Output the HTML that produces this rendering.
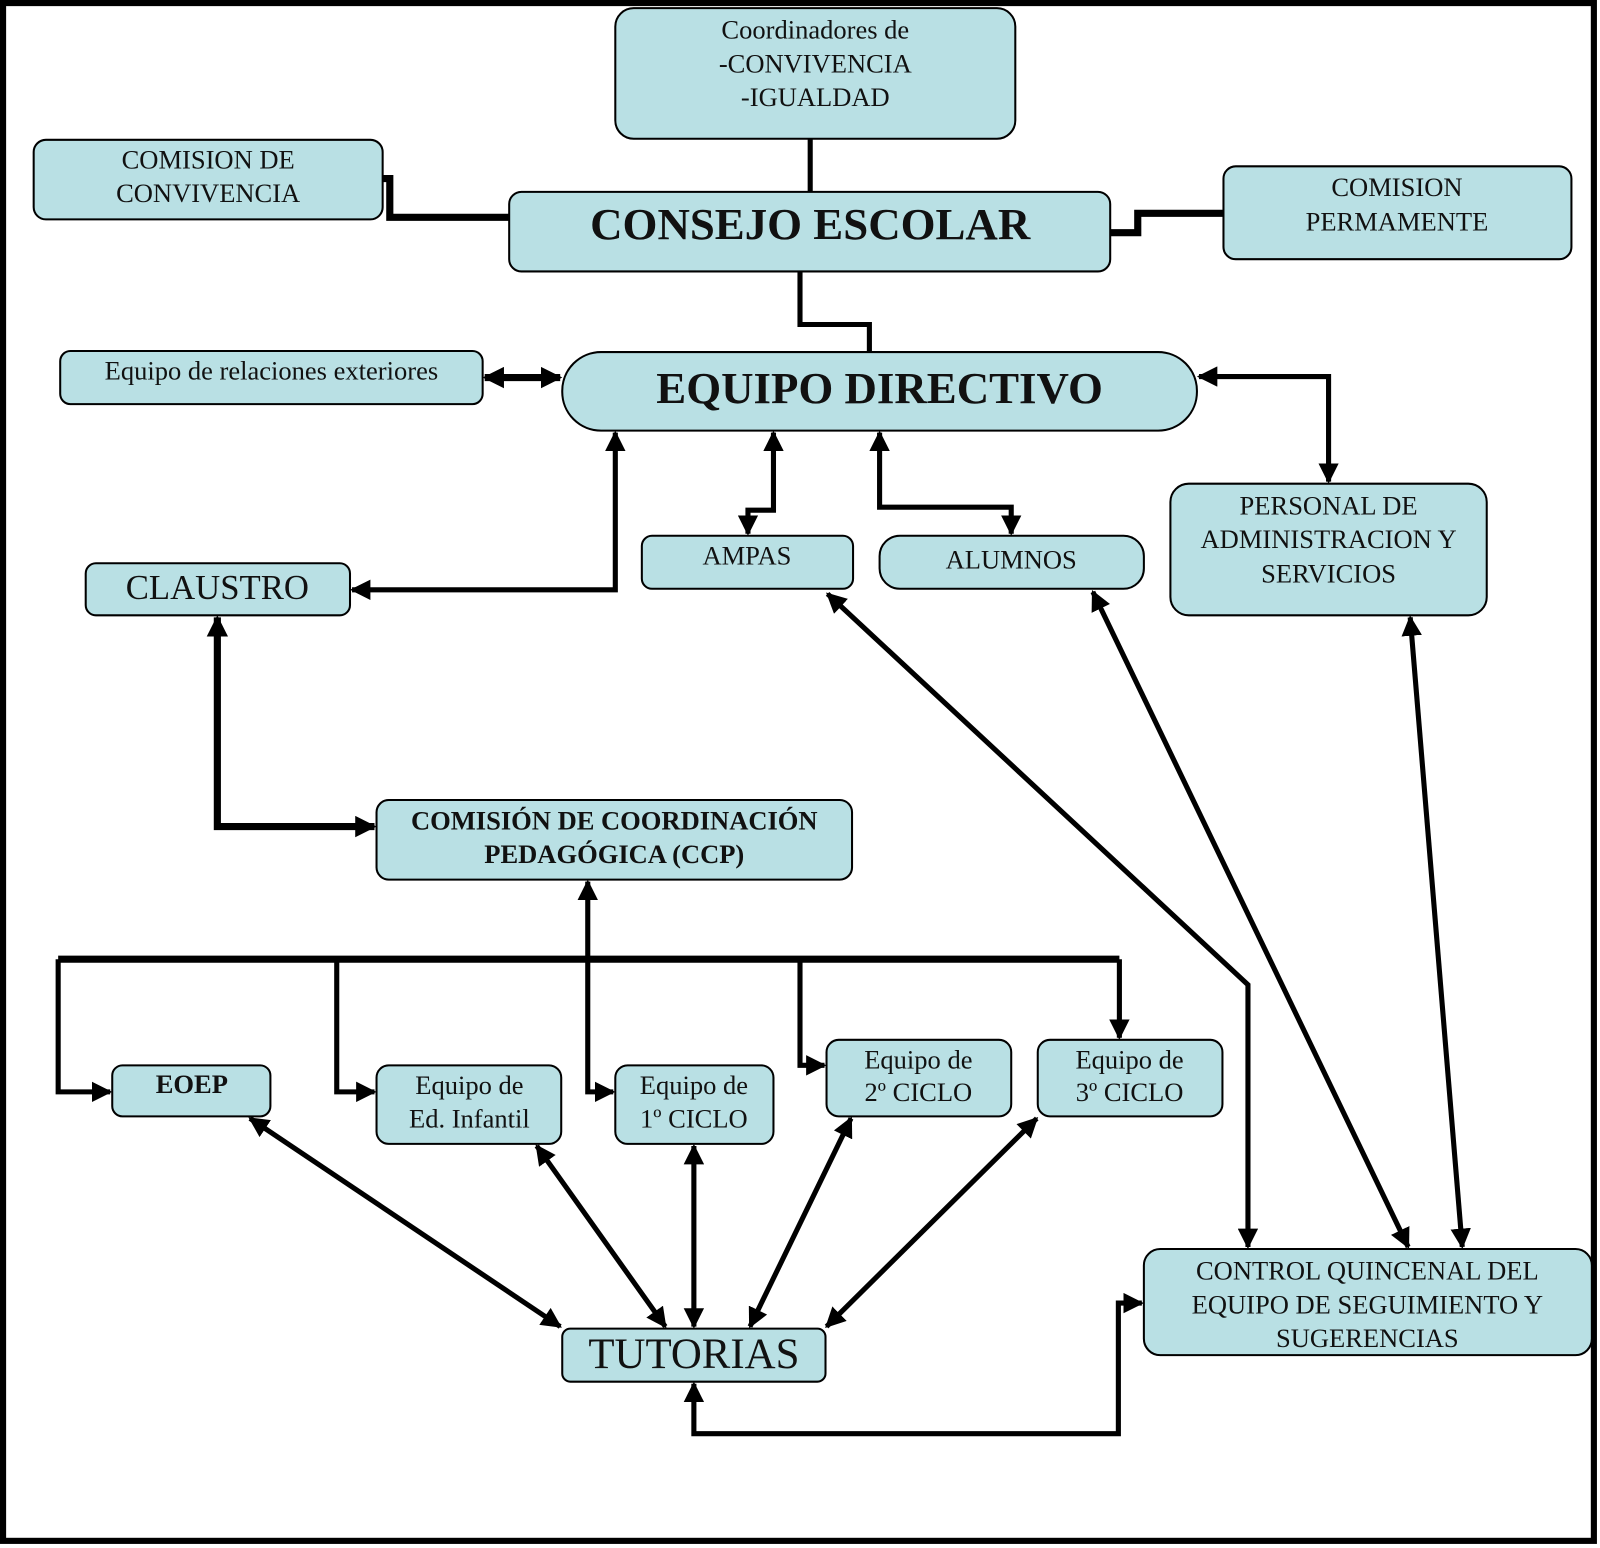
<!DOCTYPE html>
<html><head><meta charset="utf-8"><style>
html,body{margin:0;padding:0;background:#fff}
svg{display:block}
text{font-family:"Liberation Serif",serif;fill:#111;text-anchor:middle;dominant-baseline:middle}
.b{fill:#b9e0e4;stroke:#000;stroke-width:2}
.l{fill:none;stroke:#000;stroke-width:5}
.t{fill:none;stroke:#000;stroke-width:7}
</style></head><body>
<svg width="1600" height="1548" viewBox="0 0 1568 1517" preserveAspectRatio="none" xmlns="http://www.w3.org/2000/svg">
<defs>
<marker id="a" viewBox="0 0 10 10" refX="9" refY="5" markerWidth="4" markerHeight="4" orient="auto-start-reverse" markerUnits="strokeWidth"><path d="M0,0L10,5L0,10z" fill="#000"/></marker>
<marker id="s" viewBox="0 0 10 10" refX="9" refY="5" markerWidth="3" markerHeight="3" orient="auto-start-reverse" markerUnits="strokeWidth"><path d="M0,0L10,5L0,10z" fill="#000"/></marker>
</defs>
<rect x="3" y="3" width="1559" height="1507" fill="none" stroke="#000" stroke-width="6"/>
<!-- connectors -->
<path class="l" d="M794,136V188"/>
<path class="t" d="M375,175H382V213H499"/>
<path class="t" d="M1088,228H1115V209H1199"/>
<path class="l" d="M784,266V318H852V345"/>
<path class="t" d="M475,370H549" marker-start="url(#s)" marker-end="url(#s)"/>
<path class="l" d="M1175,369H1302V472" marker-start="url(#a)" marker-end="url(#a)"/>
<path class="l" d="M603,424V578H345" marker-start="url(#a)" marker-end="url(#a)"/>
<path class="l" d="M758,424V500H733V523" marker-start="url(#a)" marker-end="url(#a)"/>
<path class="l" d="M862,424V497H991V523" marker-start="url(#a)" marker-end="url(#a)"/>
<path class="t" d="M213,605V810H367" marker-start="url(#s)" marker-end="url(#s)"/>
<path class="l" d="M576,864V1070H601" marker-start="url(#a)" marker-end="url(#a)"/>
<path class="t" d="M57,940H1097"/>
<path class="l" d="M57,940V1070H108" marker-end="url(#a)"/>
<path class="l" d="M330,940V1070H367" marker-end="url(#a)"/>
<path class="l" d="M784,940V1044H808" marker-end="url(#a)"/>
<path class="l" d="M1097,940V1017" marker-end="url(#a)"/>
<path class="l" d="M245,1096L549,1300" marker-start="url(#a)" marker-end="url(#a)"/>
<path class="l" d="M526,1123L652,1300" marker-start="url(#a)" marker-end="url(#a)"/>
<path class="l" d="M680,1123V1300" marker-start="url(#a)" marker-end="url(#a)"/>
<path class="l" d="M834,1096L735,1300" marker-start="url(#a)" marker-end="url(#a)"/>
<path class="l" d="M1016,1096L810,1300" marker-start="url(#a)" marker-end="url(#a)"/>
<path class="l" d="M811,582L1223,965V1222" marker-start="url(#a)" marker-end="url(#a)"/>
<path class="l" d="M1071,580L1380,1222" marker-start="url(#a)" marker-end="url(#a)"/>
<path class="l" d="M1382,605L1433,1222" marker-start="url(#a)" marker-end="url(#a)"/>
<path class="l" d="M680,1356V1405H1096V1277H1119" marker-start="url(#a)" marker-end="url(#a)"/>
<!-- boxes -->
<rect class="b" x="603" y="8" width="392" height="128" rx="18"/>
<text x="799" y="32" font-size="26">Coordinadores de</text>
<text x="799" y="65" font-size="26">-CONVIVENCIA</text>
<text x="799" y="98" font-size="26">-IGUALDAD</text>
<rect class="b" x="33" y="137" width="342" height="78" rx="12"/>
<text x="204" y="159" font-size="26">COMISION DE</text>
<text x="204" y="192" font-size="26">CONVIVENCIA</text>
<rect class="b" x="499" y="188" width="589" height="78" rx="12"/>
<text x="794" y="224" font-size="44" font-weight="bold">CONSEJO ESCOLAR</text>
<rect class="b" x="1199" y="163" width="341" height="91" rx="12"/>
<text x="1369" y="186" font-size="26">COMISION</text>
<text x="1369" y="220" font-size="26">PERMAMENTE</text>
<rect class="b" x="59" y="344" width="414" height="52" rx="10"/>
<text x="266" y="366" font-size="26">Equipo de relaciones exteriores</text>
<rect class="b" x="551" y="345" width="622" height="77" rx="38"/>
<text x="862" y="385" font-size="44" font-weight="bold">EQUIPO DIRECTIVO</text>
<rect class="b" x="629" y="525" width="207" height="52" rx="10"/>
<text x="732" y="547" font-size="26">AMPAS</text>
<rect class="b" x="862" y="525" width="259" height="52" rx="20"/>
<text x="991" y="551" font-size="26">ALUMNOS</text>
<rect class="b" x="1147" y="474" width="310" height="129" rx="18"/>
<text x="1302" y="498" font-size="26">PERSONAL DE</text>
<text x="1302" y="531" font-size="26">ADMINISTRACION Y</text>
<text x="1302" y="565" font-size="26">SERVICIOS</text>
<rect class="b" x="84" y="552" width="259" height="51" rx="10"/>
<text x="213" y="579" font-size="34">CLAUSTRO</text>
<rect class="b" x="369" y="784" width="466" height="78" rx="12"/>
<text x="602" y="807" font-size="26" font-weight="bold">COMISIÓN DE COORDINACIÓN</text>
<text x="602" y="840" font-size="26" font-weight="bold">PEDAGÓGICA (CCP)</text>
<rect class="b" x="110" y="1044" width="155" height="50" rx="10"/>
<text x="188" y="1065" font-size="26" font-weight="bold">EOEP</text>
<rect class="b" x="369" y="1044" width="181" height="77" rx="12"/>
<text x="460" y="1066" font-size="26">Equipo de</text>
<text x="460" y="1099" font-size="26">Ed. Infantil</text>
<rect class="b" x="603" y="1044" width="155" height="77" rx="12"/>
<text x="680" y="1066" font-size="26">Equipo de</text>
<text x="680" y="1099" font-size="26">1º CICLO</text>
<rect class="b" x="810" y="1019" width="181" height="75" rx="12"/>
<text x="900" y="1041" font-size="26">Equipo de</text>
<text x="900" y="1073" font-size="26">2º CICLO</text>
<rect class="b" x="1017" y="1019" width="181" height="75" rx="12"/>
<text x="1107" y="1041" font-size="26">Equipo de</text>
<text x="1107" y="1073" font-size="26">3º CICLO</text>
<rect class="b" x="1121" y="1224" width="439" height="104" rx="16"/>
<text x="1340" y="1248" font-size="26">CONTROL QUINCENAL DEL</text>
<text x="1340" y="1281" font-size="26">EQUIPO DE SEGUIMIENTO Y</text>
<text x="1340" y="1314" font-size="26">SUGERENCIAS</text>
<rect class="b" x="551" y="1302" width="258" height="52" rx="8"/>
<text x="680" y="1331" font-size="42">TUTORIAS</text>
</svg>
</body></html>
